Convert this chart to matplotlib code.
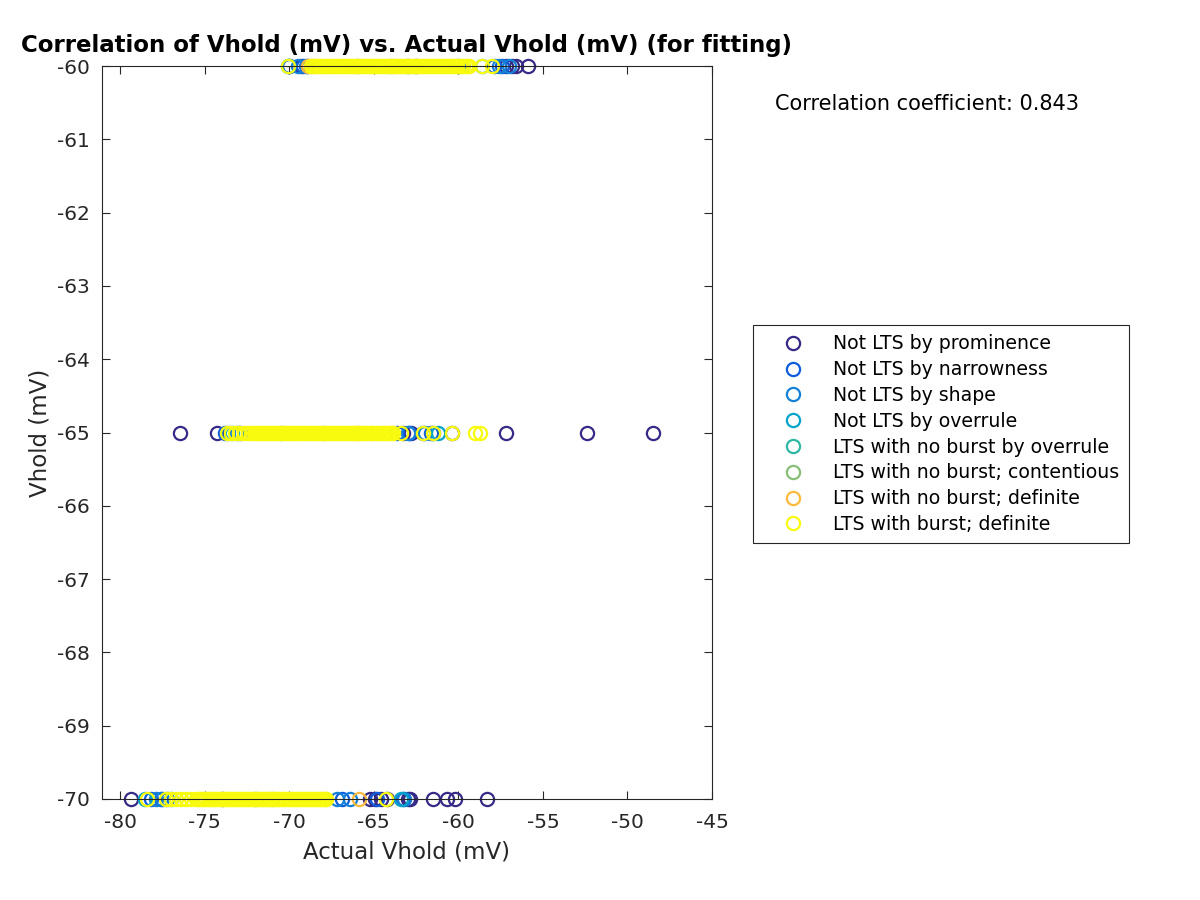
import numpy as np
import matplotlib
matplotlib.use("Agg")
import matplotlib.pyplot as plt

plt.rcParams['font.family'] = ['DejaVu Sans']
plt.rcParams['axes.unicode_minus'] = False

# Vhold levels (mV)
vhold_levels = [-60, -65, -70]

labels = ["Not LTS by prominence", "Not LTS by narrowness", "Not LTS by shape",
          "Not LTS by overrule", "LTS with no burst by overrule",
          "LTS with no burst; contentious", "LTS with no burst; definite",
          "LTS with burst; definite"]
colors = ["#352A87", "#0F5CDD", "#1481D6", "#06A4CA", "#2EB7A4", "#87BF77",
          "#FCBA3C", "#F9FB0E"]

# Actual Vhold values for each class at Vhold = -60, -65, -70
prominence = ([-70.0, -69.3, -62.5, -57.2, -56.8, -56.6, -55.9],
              [-76.45, -74.25, -63.3, -62.8, -61.5, -60.4, -57.2, -52.4, -48.5],
              [-79.35, -74.0, -65.2, -64.9, -64.6, -64.2, -63.0, -62.85, -61.5, -60.66, -60.19, -58.3])
narrowness = ([-69.2, -68.95, -63.0, -57.9, -57.4],
              [-73.8, -72.9, -63.6, -62.9, -62.1, -61.6],
              [-78.2, -77.6, -77.2, -66.9, -64.8, -63.3])
shape = ([-70.0, -69.5, -69.0, -60.0, -57.6, -57.0],
         [-73.6, -73.1, -63.0, -62.0],
         [-77.9, -77.5, -67.2, -66.4, -63.2])
overrule = ([-70.05, -58.6],
            [-73.4, -61.2],
            [-78.5, -77.0, -63.4])
nb_overrule = ([-66.0],
               [-70.5],
               [-72.0])
nb_contentious = ([-64.0],
                  [-68.0],
                  [-71.0])
nb_definite = ([-68.9, -68.7],
               [-66.0],
               [-67.9, -65.9])
burst_definite = (
    [-70.07, -68.70, -68.58, -68.47, -68.33, -68.21, -68.10, -67.98, -67.85, -67.74, -67.62,
     -67.49, -67.38, -67.26, -67.13, -67.02, -66.90, -66.77, -66.66, -66.54, -66.41, -66.30,
     -66.18, -66.05, -65.94, -65.82, -65.69, -65.58, -65.46, -65.33, -65.22, -65.10, -64.97,
     -64.86, -64.74, -64.61, -64.50, -64.38, -64.25, -64.14, -64.02, -63.89, -63.78, -63.66,
     -63.53, -63.42, -63.30, -63.17, -63.06, -62.94, -62.81, -62.70, -62.58, -62.45, -62.34,
     -62.22, -62.09, -61.98, -61.86, -61.73, -61.62, -61.50, -61.37, -61.26, -61.14, -61.01,
     -60.90, -60.78, -60.65, -60.54, -60.42, -60.29, -60.18, -60.06, -59.93, -59.82, -59.70,
     -59.57, -59.46, -59.34, -58.60, -58.0],
    [-73.7, -73.45, -73.2, -72.95, -72.7, -72.45, -72.25, -72.10, -71.98, -71.86, -71.73,
     -71.62, -71.50, -71.37,
     -71.26, -71.14, -71.01, -70.90, -70.78, -70.65, -70.54, -70.42, -70.29, -70.18, -70.06,
     -69.93, -69.82, -69.70, -69.57, -69.46, -69.34, -69.21, -69.10, -68.98, -68.85, -68.74,
     -68.62, -68.49, -68.38, -68.26, -68.13, -68.02, -67.90, -67.77, -67.66, -67.54, -67.41,
     -67.30, -67.18, -67.05, -66.94, -66.82, -66.69, -66.58, -66.46, -66.33, -66.22, -66.10,
     -65.97, -65.86, -65.74, -65.61, -65.50, -65.38, -65.25, -65.14, -65.02, -64.89, -64.78,
     -64.66, -64.53, -64.42, -64.30, -64.17, -64.06, -63.94, -63.85, -63.4, -62.1, -61.5,
     -60.4, -59.0, -58.7],
    [-78.4, -77.3, -77.0, -76.7, -76.4, -76.1, -75.8, -75.50, -75.38, -75.26, -75.13, -75.02,
     -74.90, -74.77, -74.66, -74.54, -74.41, -74.30, -74.18, -74.05, -73.94, -73.82, -73.69,
     -73.58, -73.46, -73.33, -73.22, -73.10, -72.97, -72.86, -72.74, -72.61, -72.50, -72.38,
     -72.25, -72.14, -72.02, -71.89, -71.78, -71.66, -71.53, -71.42, -71.30, -71.17, -71.06,
     -70.94, -70.81, -70.70, -70.58, -70.45, -70.34, -70.22, -70.09, -69.98, -69.86, -69.73,
     -69.62, -69.50, -69.37, -69.26, -69.14, -69.01, -68.90, -68.78, -68.65, -68.54, -68.42,
     -68.29, -68.18, -68.06, -67.93, -67.80, -64.3])

classes = [prominence, narrowness, shape, overrule, nb_overrule, nb_contentious,
           nb_definite, burst_definite]

correlation_coefficient = 0.843

fig = plt.figure(figsize=(12, 9), dpi=100)
ax = fig.add_axes([102/1200, 1 - 799/900, (712 - 102)/1200, (799 - 66)/900])

for cls, lab, col in zip(classes, labels, colors):
    xs, ys = [], []
    for lvl, vals in zip(vhold_levels, cls):
        xs.extend(vals)
        ys.extend([lvl] * len(vals))
    ax.plot(xs, ys, linestyle='none', marker='o', markersize=9.5, markerfacecolor='none',
            markeredgecolor=col, markeredgewidth=1.6, label=lab, clip_on=False)

ax.set_xlim(-81.07, -45)
ax.set_ylim(-70, -60)
ax.set_xticks([-80, -75, -70, -65, -60, -55, -50, -45])
ax.set_yticks(list(range(-70, -59)))
ax.tick_params(direction='in', top=True, right=True, length=6, width=0.8,
               labelsize=14.5, colors='#262626')
ax.tick_params(axis='y', pad=9)
ax.tick_params(axis='x', pad=10)
for sp in ax.spines.values():
    sp.set_color('#262626')
    sp.set_linewidth(0.8)

ax.set_xlabel("Actual Vhold (mV)", fontsize=16.5, color='#262626', labelpad=6)
ax.set_ylabel("Vhold (mV)", fontsize=16.5, color='#262626', labelpad=4)
ax.set_title("Correlation of Vhold (mV) vs. Actual Vhold (mV) (for fitting)",
             fontsize=16.5, fontweight='bold', pad=10)

fig.text(775/1200, 1 - 104/900, f"Correlation coefficient: {correlation_coefficient:.3f}",
         fontsize=15, va='center', ha='left', color='black')

leg = ax.legend(loc='upper left', bbox_to_anchor=(753/1200, 1 - 325/900),
                bbox_transform=fig.transFigure, borderaxespad=0, fontsize=13.6,
                frameon=True, fancybox=False, edgecolor='#262626', framealpha=1,
                labelspacing=0.36, handletextpad=0.5, borderpad=0.5, handlelength=3.24)
leg.get_frame().set_linewidth(0.8)

fig.savefig("out.png", dpi=100)
